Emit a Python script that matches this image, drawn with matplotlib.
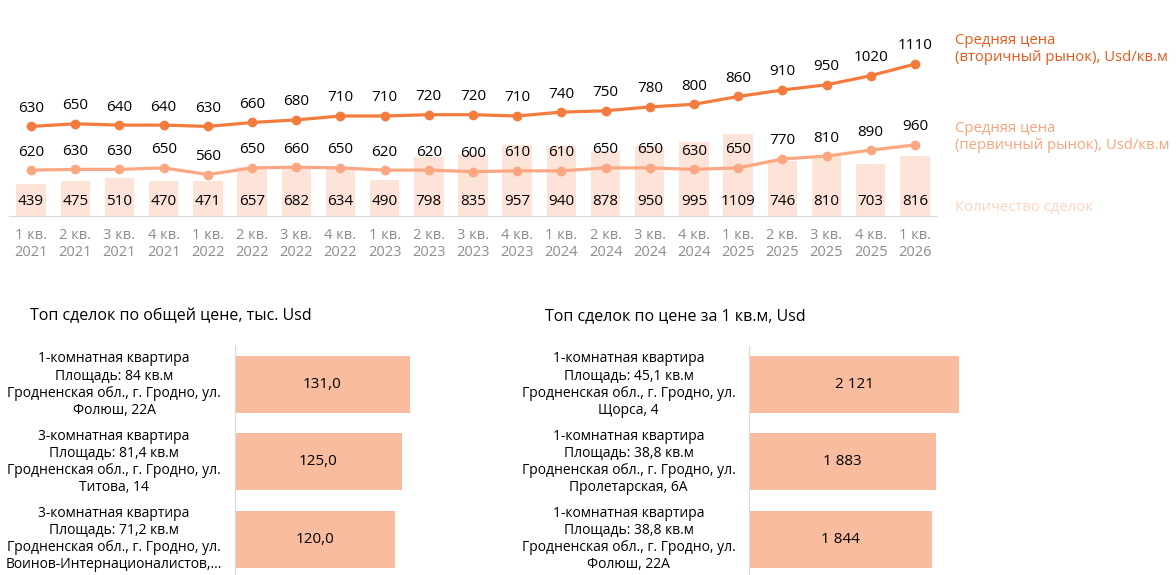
import numpy as np
import matplotlib.pyplot as plt

plt.rcParams['font.family'] = ['Open Sans', 'DejaVu Sans']

# --- data -------------------------------------------------------------
quarters = ['1 кв.\n2021', '2 кв.\n2021', '3 кв.\n2021', '4 кв.\n2021',
            '1 кв.\n2022', '2 кв.\n2022', '3 кв.\n2022', '4 кв.\n2022',
            '1 кв.\n2023', '2 кв.\n2023', '3 кв.\n2023', '4 кв.\n2023',
            '1 кв.\n2024', '2 кв.\n2024', '3 кв.\n2024', '4 кв.\n2024',
            '1 кв.\n2025', '2 кв.\n2025', '3 кв.\n2025', '4 кв.\n2025',
            '1 кв.\n2026']
deals = [439, 475, 510, 470, 471, 657, 682, 634, 490, 798, 835,
         957, 940, 878, 950, 995, 1109, 746, 810, 703, 816]
price_secondary = [630, 650, 640, 640, 630, 660, 680, 710, 710, 720, 720,
                   710, 740, 750, 780, 800, 860, 910, 950, 1020, 1110]
price_primary = [620, 630, 630, 650, 560, 650, 660, 650, 620, 620, 600,
                 610, 610, 650, 650, 630, 650, 770, 810, 890, 960]

top_total_labels = ['1-комнатная квартира\nПлощадь: 84 кв.м\nГродненская обл., г. Гродно, ул.\nФолюш, 22А',
                    '3-комнатная квартира\nПлощадь: 81,4 кв.м\nГродненская обл., г. Гродно, ул.\nТитова, 14',
                    '3-комнатная квартира\nПлощадь: 71,2 кв.м\nГродненская обл., г. Гродно, ул.\nВоинов-Интернационалистов,...']
top_total_values = [131.0, 125.0, 120.0]

top_sqm_labels = ['1-комнатная квартира\nПлощадь: 45,1 кв.м\nГродненская обл., г. Гродно, ул.\nЩорса, 4',
                  '1-комнатная квартира\nПлощадь: 38,8 кв.м\nГродненская обл., г. Гродно, ул.\nПролетарская, 6А',
                  '1-комнатная квартира\nПлощадь: 38,8 кв.м\nГродненская обл., г. Гродно, ул.\nФолюш, 22А']
top_sqm_values = [2121, 1883, 1844]

# --- colours ----------------------------------------------------------
c_sec = '#F47B3E'
c_sec_txt = '#E85A1A'
c_pri = '#FBA882'
c_pri_txt = '#F9A47D'
c_bar = '#FDE3D8'
c_bar_txt = '#FCD5C2'
c_hbar = '#F9BC9F'
c_grey = '#8C8C8C'
c_axis = '#D9D9D9'

W, H = 1176, 575
fig = plt.figure(figsize=(W / 100, H / 100), dpi=100)


def box(left, top, right, bottom):
    return [left / W, 1 - bottom / H, (right - left) / W, (bottom - top) / H]


# --- top chart --------------------------------------------------------
x = np.arange(len(quarters))
ax = fig.add_axes(box(9, 10, 937, 216))
ax.bar(x, deals, width=0.665, color=c_bar, zorder=1)
ax.plot(x, price_primary, color=c_pri, lw=2.3, marker='o', ms=6, zorder=3)
ax.set_xlim(-0.5, len(quarters) - 0.5)
ax.set_ylim(0, 206 / 0.074)
for i in x:
    ax.annotate(f'{deals[i]}', (i, 0), xytext=(0, 10.3), textcoords='offset points',
                ha='center', va='center', fontsize=11)
    ax.annotate(f'{price_primary[i]}', (i, price_primary[i]), xytext=(0, 13),
                textcoords='offset points', ha='center', va='center', fontsize=11)
ax.set_xticks(x, quarters, color=c_grey, fontsize=10.5, linespacing=1.1)
ax.tick_params(axis='x', length=0, pad=9)
ax.set_yticks([])
for s in ['top', 'right', 'left']:
    ax.spines[s].set_visible(False)
ax.spines['bottom'].set_color(c_axis)
ax.patch.set_alpha(0)

ax2 = ax.twinx()
ax2.plot(x, price_secondary, color=c_sec, lw=2.3, marker='o', ms=6, zorder=3)
ax2.set_ylim((208.3 - 216) / 0.13, (208.3 - 10) / 0.13)
for i in x:
    ax2.annotate(f'{price_secondary[i]}', (i, price_secondary[i]), xytext=(0, 13),
                 textcoords='offset points', ha='center', va='center', fontsize=11)
ax2.set_yticks([])
for s in ax2.spines.values():
    s.set_visible(False)

fig.text(955 / W, 1 - 49 / H, 'Средняя цена\n(вторичный рынок), Usd/кв.м',
         color=c_sec_txt, fontsize=10.7, va='center', linespacing=1.15)
fig.text(955 / W, 1 - 137 / H, 'Средняя цена\n(первичный рынок), Usd/кв.м',
         color=c_pri_txt, fontsize=10.7, va='center', linespacing=1.15)
fig.text(955 / W, 1 - 208 / H, 'Количество сделок',
         color=c_bar_txt, fontsize=10.7, va='center')


# --- bottom panels ----------------------------------------------------
def top_deals(rect, labels, values, xmax, texts, title, title_x):
    a = fig.add_axes(rect)
    y = np.arange(len(values))
    a.barh(y, values, height=0.74, color=c_hbar)
    a.set_xlim(0, xmax)
    a.set_ylim(len(values) - 0.5, -0.5)
    for i in y:
        a.text(values[i] / 2, i, texts[i], ha='center', va='center', fontsize=11)
        a.annotate(labels[i], (0, i), xycoords=('axes fraction', 'data'),
                   xytext=(-87, 0), textcoords='offset points',
                   ha='center', va='center', fontsize=10, linespacing=1.2)
    a.set_xticks([])
    a.set_yticks([])
    for s in ['top', 'right', 'bottom']:
        a.spines[s].set_visible(False)
    a.spines['left'].set_color(c_axis)
    fig.text(title_x / W, 1 - 316 / H, title, fontsize=11.5, va='center',
             fontweight='medium')


top_deals(box(235, 346, 470, 577.7), top_total_labels, top_total_values, 235 / 1.336,
          [f'{v:.1f}'.replace('.', ',') for v in top_total_values],
          'Топ сделок по общей цене, тыс. Usd', 30)
top_deals(box(749.3, 346, 1000, 577.7), top_sqm_labels, top_sqm_values, 250.7 / 0.0989,
          [f'{v:,}'.replace(',', '\u00a0') for v in top_sqm_values],
          'Топ сделок по цене за 1 кв.м, Usd', 545)

fig.savefig('out.png', dpi=100)
